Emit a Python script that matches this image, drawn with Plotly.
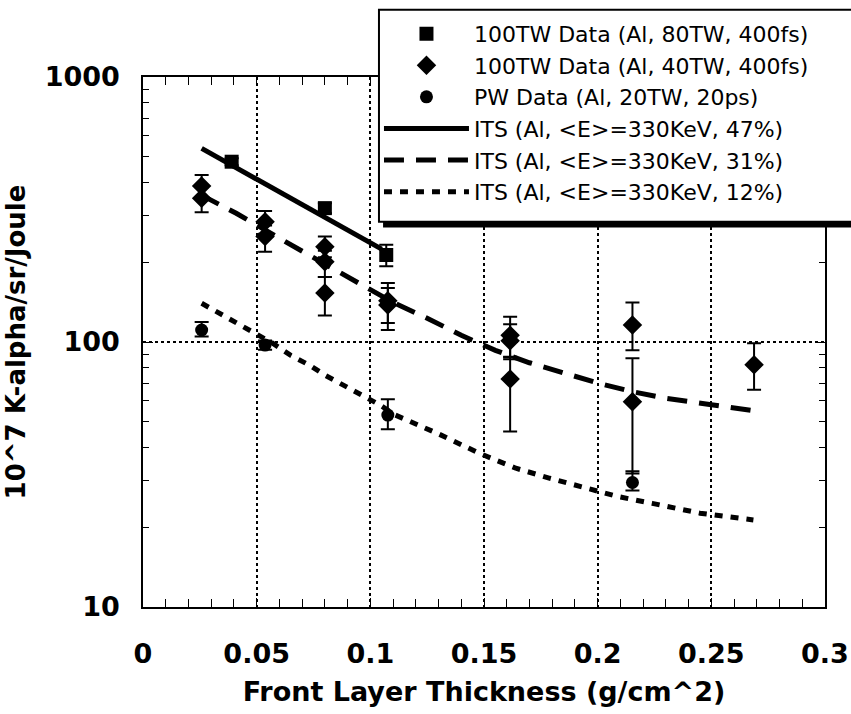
import plotly.graph_objects as go

# ---------------- data ----------------
sq_x = [0.039, 0.080, 0.107]
sq_y = [479, 320, 213]
sq_err = [15, 14, 20]

dm_x = [0.0258, 0.0258, 0.0537, 0.0537, 0.080, 0.080, 0.080, 0.1077, 0.1077,
        0.1615, 0.1615, 0.1615, 0.2153, 0.2153, 0.2688]
dm_y = [388, 349, 284, 250, 229, 201, 153, 143, 138, 106, 101, 72.5, 116, 59.5, 82]
dm_ep = [39, 35, 28, 25, 21, 20, 23, 24, 22, 18.6, 15.6, 15, 25, 27.3, 17]
dm_em = [39, 40, 28, 31, 20, 25, 27, 25, 27, 18, 15, 26.6, 23, 27.6, 16]

ci_x = [0.0258, 0.0537, 0.1077, 0.2153]
ci_y = [111, 97.4, 53, 29.5]
ci_ep = [8, 4, 7.8, 3]
ci_em = [6, 4, 6.1, 2]

its47_x = [0.0258, 0.105]
its47_y = [538, 224]

its31_x = [0.0255, 0.041, 0.063, 0.080, 0.095, 0.110, 0.125, 0.140, 0.155,
           0.170, 0.185, 0.200, 0.215, 0.230, 0.250, 0.269]
its31_y = [359, 306, 238, 197, 167, 141, 123, 106, 93, 83.5, 76.5, 70, 65,
           61.3, 58, 55]

its12_x = [0.0258, 0.035, 0.043, 0.051, 0.057, 0.065, 0.073, 0.080, 0.088,
           0.096, 0.104, 0.111, 0.130, 0.148, 0.164, 0.179, 0.193, 0.209,
           0.224, 0.245, 0.2685]
its12_y = [140, 126, 116, 106, 99, 89, 82, 75, 69, 63, 58, 53, 45, 38, 33.4,
           30.6, 28.4, 26.1, 24.6, 22.6, 21.3]

names = ["100TW Data (Al, 80TW, 400fs)",
         "100TW Data (Al, 40TW, 400fs)",
         "PW Data (Al, 20TW, 20ps)",
         "ITS (Al, <E>=330KeV, 47%)",
         "ITS (Al, <E>=330KeV, 31%)",
         "ITS (Al, <E>=330KeV, 12%)"]

x_ticks = [0, 0.05, 0.1, 0.15, 0.2, 0.25, 0.3]
x_ticktext = ["0", "0.05", "0.1", "0.15", "0.2", "0.25", "0.3"]
y_ticks = [10, 100, 1000]
y_ticktext = ["10", "100", "1000"]

# ---------------- figure ----------------
fig = go.Figure()

def ebar(p, m):
    return dict(type="data", array=p, arrayminus=m, symmetric=False,
                color="black", thickness=2, width=7)

fig.add_trace(go.Scatter(x=sq_x, y=sq_y, mode="markers", name=names[0],
                         marker=dict(symbol="square", size=14, color="black"),
                         error_y=ebar(sq_err, sq_err)))
fig.add_trace(go.Scatter(x=dm_x, y=dm_y, mode="markers", name=names[1],
                         marker=dict(symbol="diamond", size=15, color="black"),
                         error_y=ebar(dm_ep, dm_em)))
fig.add_trace(go.Scatter(x=ci_x, y=ci_y, mode="markers", name=names[2],
                         marker=dict(symbol="circle", size=13, color="black"),
                         error_y=ebar(ci_ep, ci_em)))
fig.add_trace(go.Scatter(x=its47_x, y=its47_y, mode="lines", name=names[3],
                         line=dict(color="black", width=5)))
fig.add_trace(go.Scatter(x=its31_x, y=its31_y, mode="lines", name=names[4],
                         line=dict(color="black", width=5, dash="20px,12px")))
fig.add_trace(go.Scatter(x=its12_x, y=its12_y, mode="lines", name=names[5],
                         line=dict(color="black", width=5, dash="8px,8px")))

tickfont = dict(family="DejaVu Sans", size=27, color="black", weight="bold")
xtitlefont = dict(family="DejaVu Sans", size=27, color="black", weight="bold")
ytitlefont = dict(family="DejaVu Sans", size=26, color="black", weight="bold")

fig.update_xaxes(
    range=[0, 0.3], tickmode="array", tickvals=x_ticks, ticktext=x_ticktext,
    showline=True, linecolor="black", linewidth=1.5, mirror="allticks",
    ticks="inside", ticklen=9, tickcolor="black", tickwidth=1,
    showgrid=True, gridcolor="black", gridwidth=1.5, griddash="dot",
    zeroline=False, tickfont=tickfont, ticklabelstandoff=22,
    minor=dict(dtick=0.01, tick0=0, ticks="inside", ticklen=8,
               tickcolor="black", showgrid=False),
    title=dict(text="Front Layer Thickness (g/cm^2)", font=xtitlefont, standoff=14),
)
fig.update_yaxes(
    type="log", range=[1, 3], tickmode="array", tickvals=y_ticks,
    ticktext=y_ticktext,
    showline=True, linecolor="black", linewidth=1.5, mirror="allticks",
    ticks="inside", ticklen=10, tickcolor="black", tickwidth=1,
    showgrid=True, gridcolor="black", gridwidth=1.5, griddash="dot",
    zeroline=False, tickfont=tickfont, ticklabelstandoff=16,
    minor=dict(tickmode="array",
               tickvals=[20, 30, 40, 50, 60, 70, 80, 90,
                         200, 300, 400, 500, 600, 700, 800, 900],
               ticks="inside", ticklen=6, tickcolor="black", showgrid=False),
    title=dict(text="10^7 K-alpha/sr/Joule", font=ytitlefont, standoff=12),
)

# legend frame drawn as shapes (box with a heavy bottom shadow, running off the page)
fig.add_shape(type="rect", xref="paper", yref="paper", layer="above",
              x0=0.352, x1=1.10, y0=0.716, y1=0.80,
              fillcolor="black", line=dict(width=0))
fig.add_shape(type="rect", xref="paper", yref="paper", layer="above",
              x0=0.346, x1=1.10, y0=0.727, y1=1.127,
              fillcolor="white", line=dict(color="black", width=2))

fig.update_layout(
    width=851, height=714,
    margin=dict(l=143, r=26, t=77, b=107, autoexpand=False),
    paper_bgcolor="white", plot_bgcolor="white",
    showlegend=True,
    legend=dict(x=0.346, y=1.121, xanchor="left", yanchor="top",
                bgcolor="rgba(0,0,0,0)", borderwidth=0,
                font=dict(family="DejaVu Sans", size=22, color="black"),
                itemwidth=85, tracegroupgap=0),
)

fig.write_html("out.html")
